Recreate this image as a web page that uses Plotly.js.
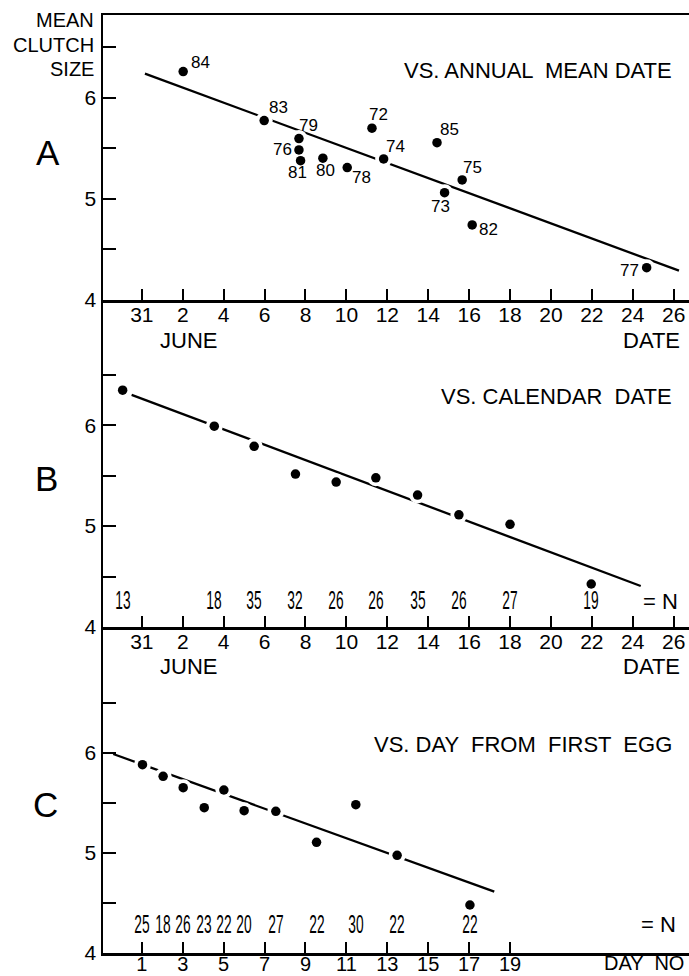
<!DOCTYPE html>
<html><head><meta charset="utf-8">
<script src="https://cdn.plot.ly/plotly-3.0.1.min.js"></script>
<style>html,body{margin:0;padding:0;background:#fff;} #chart{width:689px;height:976px;}</style>
</head><body><div id="chart"></div>
<script>
// ---------- DATA ----------
// Panel A: mean clutch size vs annual mean date (x = days after 31 May)
const yearsA  = ['84','83','79','76','81','80','78','72','74','85','75','73','82','77'];
const dateA   = [2.02, 5.98, 7.68, 7.68, 7.76, 8.85, 10.04, 11.25, 11.82, 14.43, 15.66, 14.8, 16.15, 24.68];
const clutchA = [6.26, 5.775, 5.597, 5.485, 5.379, 5.403, 5.31, 5.70, 5.396, 5.557, 5.188, 5.062, 4.743, 4.32];
const fitAx = [0.15, 26.26];
const fitAy = [6.24, 4.29];

// Panel B: vs calendar date
const dateB   = [-0.94, 3.54, 5.49, 7.51, 9.5, 11.44, 13.48, 15.5, 18.0, 21.97];
const clutchB = [6.347, 5.99, 5.79, 5.515, 5.436, 5.478, 5.307, 5.112, 5.017, 4.426];
const nB      = [13, 18, 35, 32, 26, 26, 35, 26, 27, 19];
const fitBx = [-0.5, 24.39];
const fitBy = [6.30, 4.406];

// Panel C: vs day from first egg
const dayC    = [1.03, 2.04, 3.02, 4.05, 5.01, 6.0, 7.55, 9.54, 11.46, 13.48, 17.04];
const clutchC = [5.883, 5.767, 5.653, 5.453, 5.63, 5.423, 5.417, 5.107, 5.483, 4.977, 4.48];
const nC      = [25, 18, 26, 23, 22, 20, 27, 22, 30, 22, 22];
const fitCx = [-0.4, 18.23];
const fitCy = [5.99, 4.613];

// Tick labels
const dateTickVals = [0,2,4,6,8,10,12,14,16,18,20,22,24,26];
const dateTickText = ['31','2','4','6','8','10','12','14','16','18','20','22','24','26'];
const dayTickVals  = [1,3,5,7,9,11,13,15,17,19];
const yTickVals = [4, 4.5, 5, 5.5, 6, 6.5];
const yTickText = ['4', '', '5', '', '6', ''];

// ---------- STYLE ----------
const FONT = 'Liberation Sans, Arial, Helvetica, sans-serif';
// label offsets for year labels in panel A (screen px: dx right, dy down)
const yearLabelOffset = [[17,-9],[14,-13],[10,-13],[-16,0],[-3,12],[3,12],[14,10],[7,-14],[12,-12],[12,-13],[10,-12],[-4,14],[16,5],[-17,3]];

function panelTraces(xs, ys, fx, fy, xa, ya) {
  return [
    {x: fx, y: fy, xaxis: xa, yaxis: ya, mode: 'lines', line: {color: '#000', width: 2.3}, hoverinfo: 'skip'},
    {x: xs, y: ys, xaxis: xa, yaxis: ya, mode: 'markers', marker: {color: '#fff', size: 17}, hoverinfo: 'skip'},
    {x: xs, y: ys, xaxis: xa, yaxis: ya, mode: 'markers', marker: {color: '#000', size: 9.5}}
  ];
}

const data = [].concat(
  panelTraces(dateA, clutchA, fitAx, fitAy, 'x', 'y'),
  panelTraces(dateB, clutchB, fitBx, fitBy, 'x2', 'y2'),
  panelTraces(dayC, clutchC, fitCx, fitCy, 'x3', 'y3')
);

const H = 976, L = 103, W = 586;
const py = v => 1 - v / H;
const px = v => (v - L) / W;

function xAxis(anchor, range, vals, text) {
  return {anchor: anchor, domain: [0, 1], range: range, tickvals: vals, ticktext: text,
    ticks: 'inside', ticklen: 11, tickwidth: 2, tickcolor: '#000', ticklabelstandoff: -6,
    showline: true, linewidth: 2.5, linecolor: '#000', showgrid: false, zeroline: false,
    tickfont: {family: FONT, size: 21, color: '#000'}, fixedrange: true};
}
function yAxis(anchor, domain, range) {
  return {anchor: anchor, domain: domain, range: range, tickvals: yTickVals, ticktext: yTickText,
    ticks: 'inside', ticklen: 13, tickwidth: 2, tickcolor: '#000',
    showline: true, linewidth: 2.5, linecolor: '#000', showgrid: false, zeroline: false,
    tickfont: {family: FONT, size: 21, color: '#000'}, fixedrange: true};
}

const annotations = [];
function txt(text, x, y, opts) {
  annotations.push(Object.assign({text: text, x: x, y: y, xref: 'paper', yref: 'paper', showarrow: false,
    xanchor: 'center', yanchor: 'middle', font: {family: FONT, size: 20, color: '#000'}}, opts || {}));
}
const T22 = {family: FONT, size: 22, color: '#000'};
// y-axis label
txt('MEAN', px(96), py(20), {xanchor: 'right'});
txt('CLUTCH', px(96), py(44.5), {xanchor: 'right'});
txt('SIZE', px(96), py(69), {xanchor: 'right'});
// panel letters
txt('A', px(48), py(153), {font: {family: FONT, size: 35, color: '#000'}});
txt('B', px(47), py(478), {font: {family: FONT, size: 35, color: '#000'}});
txt('C', px(45), py(804), {font: {family: FONT, size: 35, color: '#000'}});
// panel titles
txt('VS. ANNUAL  MEAN DATE', px(674), py(70), {xanchor: 'right', font: T22});
txt('VS. CALENDAR  DATE', px(674), py(397), {xanchor: 'right', font: T22});
txt('VS. DAY  FROM  FIRST  EGG', px(674), py(744), {xanchor: 'right', font: T22});
// axis sub labels
txt('JUNE', px(188), py(340), {font: T22});
txt('DATE', px(682), py(340), {xanchor: 'right', font: T22});
txt('JUNE', px(188), py(666), {font: T22});
txt('DATE', px(682), py(666), {xanchor: 'right', font: T22});
txt('DAY  NO', px(686), py(963), {xanchor: 'right', font: {family: FONT, size: 20, color: '#000'}});
txt('= N', px(680), py(601), {xanchor: 'right', font: T22});
txt('= N', px(678), py(924), {xanchor: 'right', font: T22});

// year labels (panel A)
yearsA.forEach((yr, i) => {
  annotations.push({text: yr, x: dateA[i], y: clutchA[i], xref: 'x', yref: 'y', showarrow: false,
    xshift: yearLabelOffset[i][0], yshift: -yearLabelOffset[i][1],
    font: {family: FONT, size: 17, color: '#000'}});
});
// sample sizes (condensed digits)
const nStart = annotations.length;
nB.forEach((n, i) => {
  annotations.push({text: String(n), x: dateB[i], y: 1 - 600 / H, xref: 'x2', yref: 'paper', showarrow: false,
    yanchor: 'middle', font: {family: FONT, size: 25, color: '#000'}});
});
nC.forEach((n, i) => {
  annotations.push({text: String(n), x: dayC[i], y: 1 - 924 / H, xref: 'x3', yref: 'paper', showarrow: false,
    yanchor: 'middle', font: {family: FONT, size: 25, color: '#000'}});
});

const layout = {
  width: 689, height: 976,
  margin: {l: L, r: 0, t: 0, b: 0, pad: 0},
  paper_bgcolor: '#fff', plot_bgcolor: '#fff',
  showlegend: false,
  font: {family: FONT, color: '#000'},
  xaxis:  Object.assign(xAxis('y',  [-1.9, 26.75], dateTickVals, dateTickText), {mirror: true}),
  yaxis:  yAxis('x',  [py(300), py(15)], [4, 6.82]),
  xaxis2: xAxis('y2', [-1.9, 26.75], dateTickVals, dateTickText),
  yaxis2: yAxis('x2', [py(627), py(300)], [4, 7.24]),
  xaxis3: Object.assign(xAxis('y3', [-0.9, 27.75], dayTickVals, dayTickVals.map(String)),
                        {ticklabelstandoff: -9, tickfont: {family: FONT, size: 20, color: '#000'}}),
  yaxis3: yAxis('x3', [py(953), py(627)], [4, 7.26]),
  annotations: annotations
};

Plotly.newPlot('chart', data, layout, {displayModeBar: false, staticPlot: true}).then(() => {
  document.querySelectorAll('#chart g.annotation').forEach(g => {
    const idx = +g.getAttribute('data-index');
    if (idx >= nStart) {
      const t = g.querySelector('text');
      if (t) {
        t.style.transformBox = 'fill-box';
        t.style.transformOrigin = 'center';
        t.style.transform = 'scaleX(0.55)';
      }
    }
  });
});
</script>
</body></html>
